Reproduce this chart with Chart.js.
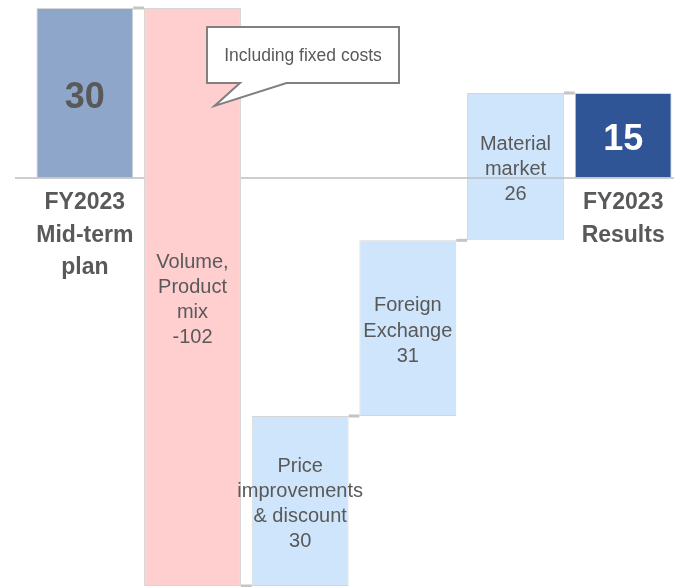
<!DOCTYPE html>
<html>
<head>
<meta charset="utf-8">
<script src="https://cdn.jsdelivr.net/npm/chart.js@4"></script>
<style>
  html, body { margin: 0; padding: 0; background: #fff; overflow: hidden; }
  canvas { display: block; }
</style>
</head>
<body>
<canvas id="wf" width="680" height="587"></canvas>
<script>
// ===== Data =====
const categories = [
  ['FY2023', 'Mid-term', 'plan'],
  ['Volume,', 'Product', 'mix'],
  ['Price', 'improvements', '& discount'],
  ['Foreign', 'Exchange'],
  ['Material', 'market'],
  ['FY2023', 'Results']
];
const values = [30, -102, 30, 31, 26, 15];
const kinds = ['total', 'delta', 'delta', 'delta', 'delta', 'total'];
const colors = ['#8FA6CB', '#FFCFD0', '#CFE5FB', '#CFE5FB', '#CFE5FB', '#2F5597'];
const yMin = -72, yMax = 30;

const FONT = "'Liberation Sans', Arial, sans-serif";
const TEXT = '#595959';

// build floating bars from running total
let run = 0;
const levels = [];
const bars = values.map((v, i) => {
  let b;
  if (kinds[i] === 'total') { b = [0, v]; run = v; }
  else { b = [run, run + v]; run += v; }
  levels.push(run);
  return b;
});

const wfPlugin = {
  id: 'wfLabels',
  afterDatasetsDraw(chart) {
    const { ctx, chartArea, scales: { y } } = chart;
    const meta = chart.getDatasetMeta(0);
    const zeroY = y.getPixelForValue(0);
    const half = meta.data[0].width / 2;

    ctx.save();
    // zero line (hidden behind the big negative bar)
    const neg = meta.data[1];
    ctx.strokeStyle = '#BFBFBF';
    ctx.lineWidth = 1.5;
    ctx.beginPath();
    ctx.moveTo(chartArea.left - 16, zeroY);
    ctx.lineTo(neg.x - half, zeroY);
    ctx.moveTo(neg.x + half, zeroY);
    ctx.lineTo(chart.width, zeroY);
    ctx.stroke();

    // connectors between bars
    ctx.strokeStyle = '#C4C4C4';
    ctx.lineWidth = 3;
    for (let i = 0; i < meta.data.length - 1; i++) {
      const a = meta.data[i], b = meta.data[i + 1];
      const ly = y.getPixelForValue(levels[i]);
      ctx.beginPath();
      ctx.moveTo(a.x + half, ly);
      ctx.lineTo(b.x - half, ly);
      ctx.stroke();
    }

    // labels
    ctx.textAlign = 'center';
    ctx.textBaseline = 'middle';
    meta.data.forEach((bar, i) => {
      const top = Math.min(bar.y, bar.base);
      const bot = Math.max(bar.y, bar.base);
      const mid = (top + bot) / 2;
      if (kinds[i] === 'total') {
        ctx.font = 'bold 36px ' + FONT;
        ctx.fillStyle = i === 0 ? TEXT : '#FFFFFF';
        ctx.fillText(String(values[i]), bar.x, mid + 5);
        ctx.font = 'bold 23px ' + FONT;
        ctx.fillStyle = TEXT;
        categories[i].forEach((t, k) => ctx.fillText(t, bar.x, zeroY + 25 + k * 32.5));
      } else {
        const lines = categories[i].concat([String(values[i])]);
        const lh = 25.3;
        ctx.font = '20px ' + FONT;
        ctx.fillStyle = TEXT;
        lines.forEach((t, k) => {
          ctx.fillText(t, bar.x, mid + 3 + (k - (lines.length - 1) / 2) * lh);
        });
      }
    });

    // callout "Including fixed costs", anchored on the negative bar
    const bx = neg.x;
    const by = y.getPixelForValue(yMax);
    const L = bx + 14.5, R = bx + 206.5, T = by + 19, B = by + 75;
    ctx.beginPath();
    ctx.moveTo(L, T);
    ctx.lineTo(R, T);
    ctx.lineTo(R, B);
    ctx.lineTo(bx + 94, B);
    ctx.lineTo(bx + 22, by + 98);
    ctx.lineTo(bx + 47.5, B);
    ctx.lineTo(L, B);
    ctx.closePath();
    ctx.fillStyle = '#FFFFFF';
    ctx.fill();
    ctx.strokeStyle = '#808080';
    ctx.lineWidth = 2;
    ctx.stroke();
    ctx.font = '17.5px ' + FONT;
    ctx.fillStyle = TEXT;
    ctx.fillText('Including fixed costs', (L + R) / 2, (T + B) / 2 + 1);
    ctx.restore();
  }
};

new Chart(document.getElementById('wf'), {
  type: 'bar',
  data: {
    labels: categories.map(c => c.join(' ')),
    datasets: [{
      data: bars,
      backgroundColor: colors,
      borderColor: '#D6D6D6',
      borderWidth: 1,
      borderSkipped: false,
      barPercentage: 0.9,
      categoryPercentage: 1
    }]
  },
  options: {
    responsive: false,
    animation: false,
    layout: { padding: { left: 31, right: 3, top: 8, bottom: 1 } },
    plugins: {
      legend: { display: false },
      tooltip: { enabled: false }
    },
    scales: {
      x: { display: false },
      y: { display: false, min: yMin, max: yMax }
    }
  },
  plugins: [wfPlugin]
});
</script>
</body>
</html>
